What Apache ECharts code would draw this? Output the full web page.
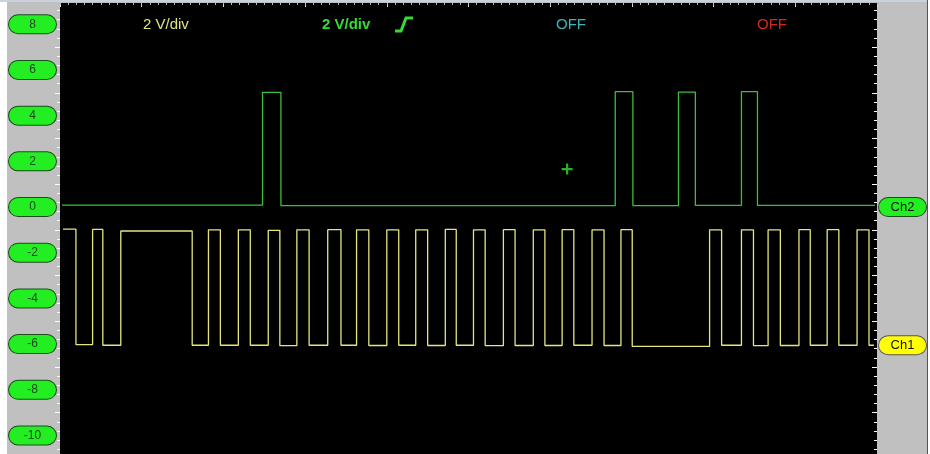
<!DOCTYPE html>
<html>
<head>
<meta charset="utf-8">
<script src="https://cdn.jsdelivr.net/npm/echarts@6/dist/echarts.min.js"></script>
<style>
html,body{margin:0;padding:0;background:#fff;}
#c{width:930px;height:454px;}
</style>
</head>
<body>
<div id="c"></div>
<script>
// ---- data (time in horizontal divisions, values in volts) ----
const yTickLabels = [8, 6, 4, 2, 0, -2, -4, -6, -8, -10];
const yellowEdges = [0.037, 0.195, 0.399, 0.524, 0.744, 1.618, 1.817, 1.963, 2.183, 2.329,
  2.549, 2.691, 2.899, 3.049, 3.277, 3.439, 3.630, 3.780, 4.000, 4.146,
  4.354, 4.500, 4.716, 4.850, 5.061, 5.204, 5.427, 5.570, 5.793, 5.935,
  6.146, 6.289, 6.512, 6.659, 6.866, 7.004, 7.951, 8.098, 8.341, 8.488,
  8.667, 8.817, 9.045, 9.183, 9.390, 9.533, 9.756, 9.902, 9.963];
const yellowLevels = [-0.97, -6.02, -0.98, -6.05, -1.05, -6.05, -1.0, -6.05, -1.0, -6.05,
  -1.02, -6.07, -1.0, -6.05, -0.99, -6.05, -1.0, -6.06, -1.0, -6.05,
  -1.0, -6.06, -0.98, -6.05, -1.0, -6.07, -0.99, -6.06, -1.0, -6.06,
  -0.99, -6.05, -1.0, -6.06, -0.99, -6.1, -1.0, -6.05, -1.0, -6.07,
  -1.0, -6.06, -0.99, -6.05, -0.99, -6.05, -1.0, -6.05];
const greenEdges = [0.024, 2.479, 2.704, 6.796, 7.012, 7.570, 7.777, 8.341, 8.537, 9.976];
const greenLevels = [0.08, 5.02, 0.06, 5.05, 0.06, 5.03, 0.07, 5.05, 0.07];
const triggerMarker = [[6.207, 1.66]];
const chLabels = [[0, 'Ch2'], [-6.05, 'Ch1']];
const yMin = -10.81, yMax = 8.93;

function stepData(edges, levels) {
  const out = [];
  for (let i = 0; i < levels.length; i++) {
    out.push([edges[i], levels[i]]);
    out.push([edges[i + 1], levels[i]]);
  }
  return out;
}
function range(a, b, step) { // tick positions only
  const r = []; for (let v = a; v <= b + 1e-9; v += step) r.push(+v.toFixed(3)); return r;
}
const oddTicks = range(-11, 9, 2).filter(v => v >= yMin && v <= yMax);
const minorYTicks = range(-10.6, 8.6, 0.4).filter(v => v >= yMin && v <= yMax);

const FONT = "'Liberation Sans Narrow','Liberation Sans',Arial,sans-serif";
const chart = echarts.init(document.getElementById('c'), null, {renderer: 'canvas'});
const pill = (bg) => ({
  width: 47, height: 18, lineHeight: 18, align: 'center', backgroundColor: bg,
  borderColor: '#1b4d1b', borderWidth: 1, borderRadius: 9, color: '#234423',
  fontSize: 12, fontFamily: FONT
});
const yBase = {type: 'value', min: yMin, max: yMax, splitLine: {show: false}, axisLine: {show: false}};
const xBase = {type: 'value', min: 0, max: 10, position: 'top', splitLine: {show: false},
  axisLine: {show: false, onZero: false}, axisLabel: {show: false}};
chart.setOption({
  animation: false,
  backgroundColor: '#c0c0c0',
  grid: {left: 60, right: 50, top: 3, bottom: 0, show: true, backgroundColor: '#000', borderWidth: 0},
  xAxis: [
    Object.assign({}, xBase, {
     axisTick: {show: true, inside: true, length: 4, customValues: range(0, 10, 1),
                lineStyle: {color: '#ddd', width: 1}}}),
    Object.assign({}, xBase, {
     axisTick: {show: true, inside: true, length: 2, customValues: range(0, 10, 0.1),
                lineStyle: {color: '#bbb', width: 1}}})
  ],
  yAxis: [
    Object.assign({}, yBase, {position: 'left',
      axisTick: {show: true, length: 5, customValues: oddTicks, lineStyle: {color: '#fff'}},
      axisLabel: {show: true, margin: 4, customValues: yTickLabels,
        formatter: v => '{p|' + v + '}', rich: {p: pill('#22ee22')}}}),
    Object.assign({}, yBase, {position: 'left', axisLabel: {show: false},
      axisTick: {show: true, length: 3, customValues: minorYTicks, lineStyle: {color: '#fff'}}}),
    Object.assign({}, yBase, {position: 'right',
      axisTick: {show: true, inside: true, length: 5, customValues: oddTicks, lineStyle: {color: '#fff'}},
      axisLabel: {show: true, margin: 2, customValues: chLabels.map(d => d[0]),
        formatter: v => { const f = chLabels.find(d => Math.abs(d[0] - v) < 1e-6);
          return f ? (f[1] === 'Ch1' ? '{y|Ch1}' : '{g|Ch2}') : ''; },
        rich: {g: Object.assign(pill('#22ee22'), {fontSize: 13, color: '#111'}),
               y: Object.assign(pill('#ffff00'), {fontSize: 13, color: '#111', borderColor: '#555'})}}}),
    Object.assign({}, yBase, {position: 'right', axisLabel: {show: false},
      axisTick: {show: true, inside: true, length: 3, customValues: minorYTicks, lineStyle: {color: '#fff'}}})
  ],
  graphic: [
    {type: 'rect', shape: {x: 0, y: 0, width: 7, height: 454}, style: {fill: '#fff'}, z: 100},
    {type: 'rect', shape: {x: 0, y: 0, width: 930, height: 2}, style: {fill: '#c9d2de'}, z: 100},
    {type: 'rect', shape: {x: 927, y: 0, width: 1, height: 454}, style: {fill: '#555'}, z: 100},
    {type: 'rect', shape: {x: 928, y: 0, width: 2, height: 454}, style: {fill: '#fff'}, z: 100},
    {type: 'text', x: 143, y: 17, style: {text: '2 V/div', fill: '#e2e27a', font: '15px ' + FONT}, z: 100},
    {type: 'text', x: 322, y: 17, style: {text: '2 V/div', fill: '#33dd33', font: 'bold 15px ' + FONT}, z: 100},
    {type: 'polyline', shape: {points: [[395, 31], [401, 31], [406, 18], [413, 18]]},
     style: {stroke: '#33dd33', lineWidth: 3, fill: null}, z: 100},
    {type: 'text', x: 556, y: 17, style: {text: 'OFF', fill: '#3bb7b7', font: '15px ' + FONT}, z: 100},
    {type: 'text', x: 757, y: 17, style: {text: 'OFF', fill: '#d42a1e', font: '15px ' + FONT}, z: 100}
  ],
  series: [
    {type: 'line', name: 'Ch2', data: stepData(greenEdges, greenLevels), showSymbol: false,
     lineStyle: {color: '#3cbf3c', width: 1.3}, z: 3},
    {type: 'line', name: 'Ch1', data: stepData(yellowEdges, yellowLevels), showSymbol: false,
     lineStyle: {color: '#e6e67c', width: 1.3}, z: 4},
    {type: 'scatter', data: triggerMarker, symbol: 'path://M4,0H6V4H10V6H6V10H4V6H0V4H4Z',
     symbolSize: 11, itemStyle: {color: '#33dd33'}, z: 5}
  ]
});
</script>
</body>
</html>
